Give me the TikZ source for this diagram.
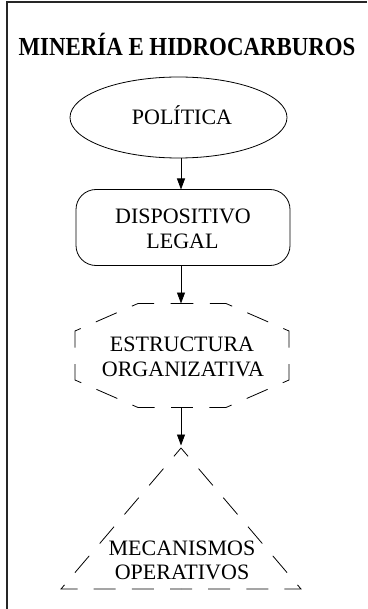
\documentclass[tikz,border=0pt]{standalone}
\usepackage{fontspec}
\setmainfont{Liberation Serif}
\usetikzlibrary{arrows.meta,shapes.geometric}
\begin{document}
\begin{tikzpicture}[x=1pt,y=-1pt,
  lbl/.style={font=\fontsize{22}{25}\selectfont, inner sep=0pt, anchor=base},
  shp/.style={line width=0.8pt},
  arr/.style={-{Triangle[length=11pt,width=8pt]}, line width=0.8pt},
  odash/.style={line width=0.8pt, dash pattern=on 22.8pt off 16.5pt, dash phase=11.4pt},
  tdash/.style={line width=0.8pt, dash pattern=on 22pt off 16.15pt, dash phase=11pt},
  ghost/.style={draw=none, inner sep=0pt, outer sep=0pt}]
\useasboundingbox (0,0) rectangle (367,609);
\draw[line width=1.2pt, draw=black!85] (7,609) -- (7,2) -- (367,2);
\coordinate (ax) at (181,0);
% title
\node[inner sep=0pt, anchor=base, font=\bfseries\fontsize{26}{26}\selectfont] (title) at (187,55.7) {\scalebox{0.88}[1]{MINERÍA E HIDROCARBUROS}};
% politica
\node[shp, draw, ellipse, minimum width=217pt, minimum height=81pt, inner sep=0pt, outer sep=0pt] (pol) at (178.5,117.5) {};
\node[lbl] (poltxt) at (182,124.5) {POLÍTICA};
% dispositivo legal
\node[shp, draw, rounded corners=20pt, minimum width=214pt, minimum height=76pt, inner sep=0pt, outer sep=0pt] (disp) at (183,227.5) {};
\node[lbl] (disptxt1) at (183,223.3) {DISPOSITIVO};
\node[lbl] (disptxt2) at (182.5,248.3) {LEGAL};
% estructura organizativa (octagon)
\node[ghost, minimum width=214pt, minimum height=104pt] (est) at (182,355.5) {};
\draw[odash] (182,303.5) -- (226,303.5) -- (289,331) -- (289,380) -- (226,407.5) -- (182,407.5);
\draw[odash] (182,303.5) -- (138,303.5) -- (75,331) -- (75,380) -- (138,407.5) -- (182,407.5);
\node[lbl] (esttxt1) at (182,351) {ESTRUCTURA};
\node[lbl] (esttxt2) at (183,376) {ORGANIZATIVA};
% mecanismos operativos (triangle)
\node[ghost, minimum width=240pt, minimum height=141pt] (mec) at (181,518.5) {};
\draw[tdash] (mec.south) -- (mec.south east) -- (mec.north);
\draw[tdash] (mec.south) -- (mec.south west) -- (mec.north);
\node[lbl] (mectxt1) at (182,555) {MECANISMOS};
\node[lbl] (mectxt2) at (182,579.5) {OPERATIVOS};
% connectors
\draw[arr] (ax |- pol.south) -- (ax |- disp.north);
\draw[arr] (ax |- disp.south) -- (ax |- est.north);
\draw[arr, shorten >=2.5pt] (ax |- est.south) -- (ax |- mec.north);
\end{tikzpicture}
\end{document}
